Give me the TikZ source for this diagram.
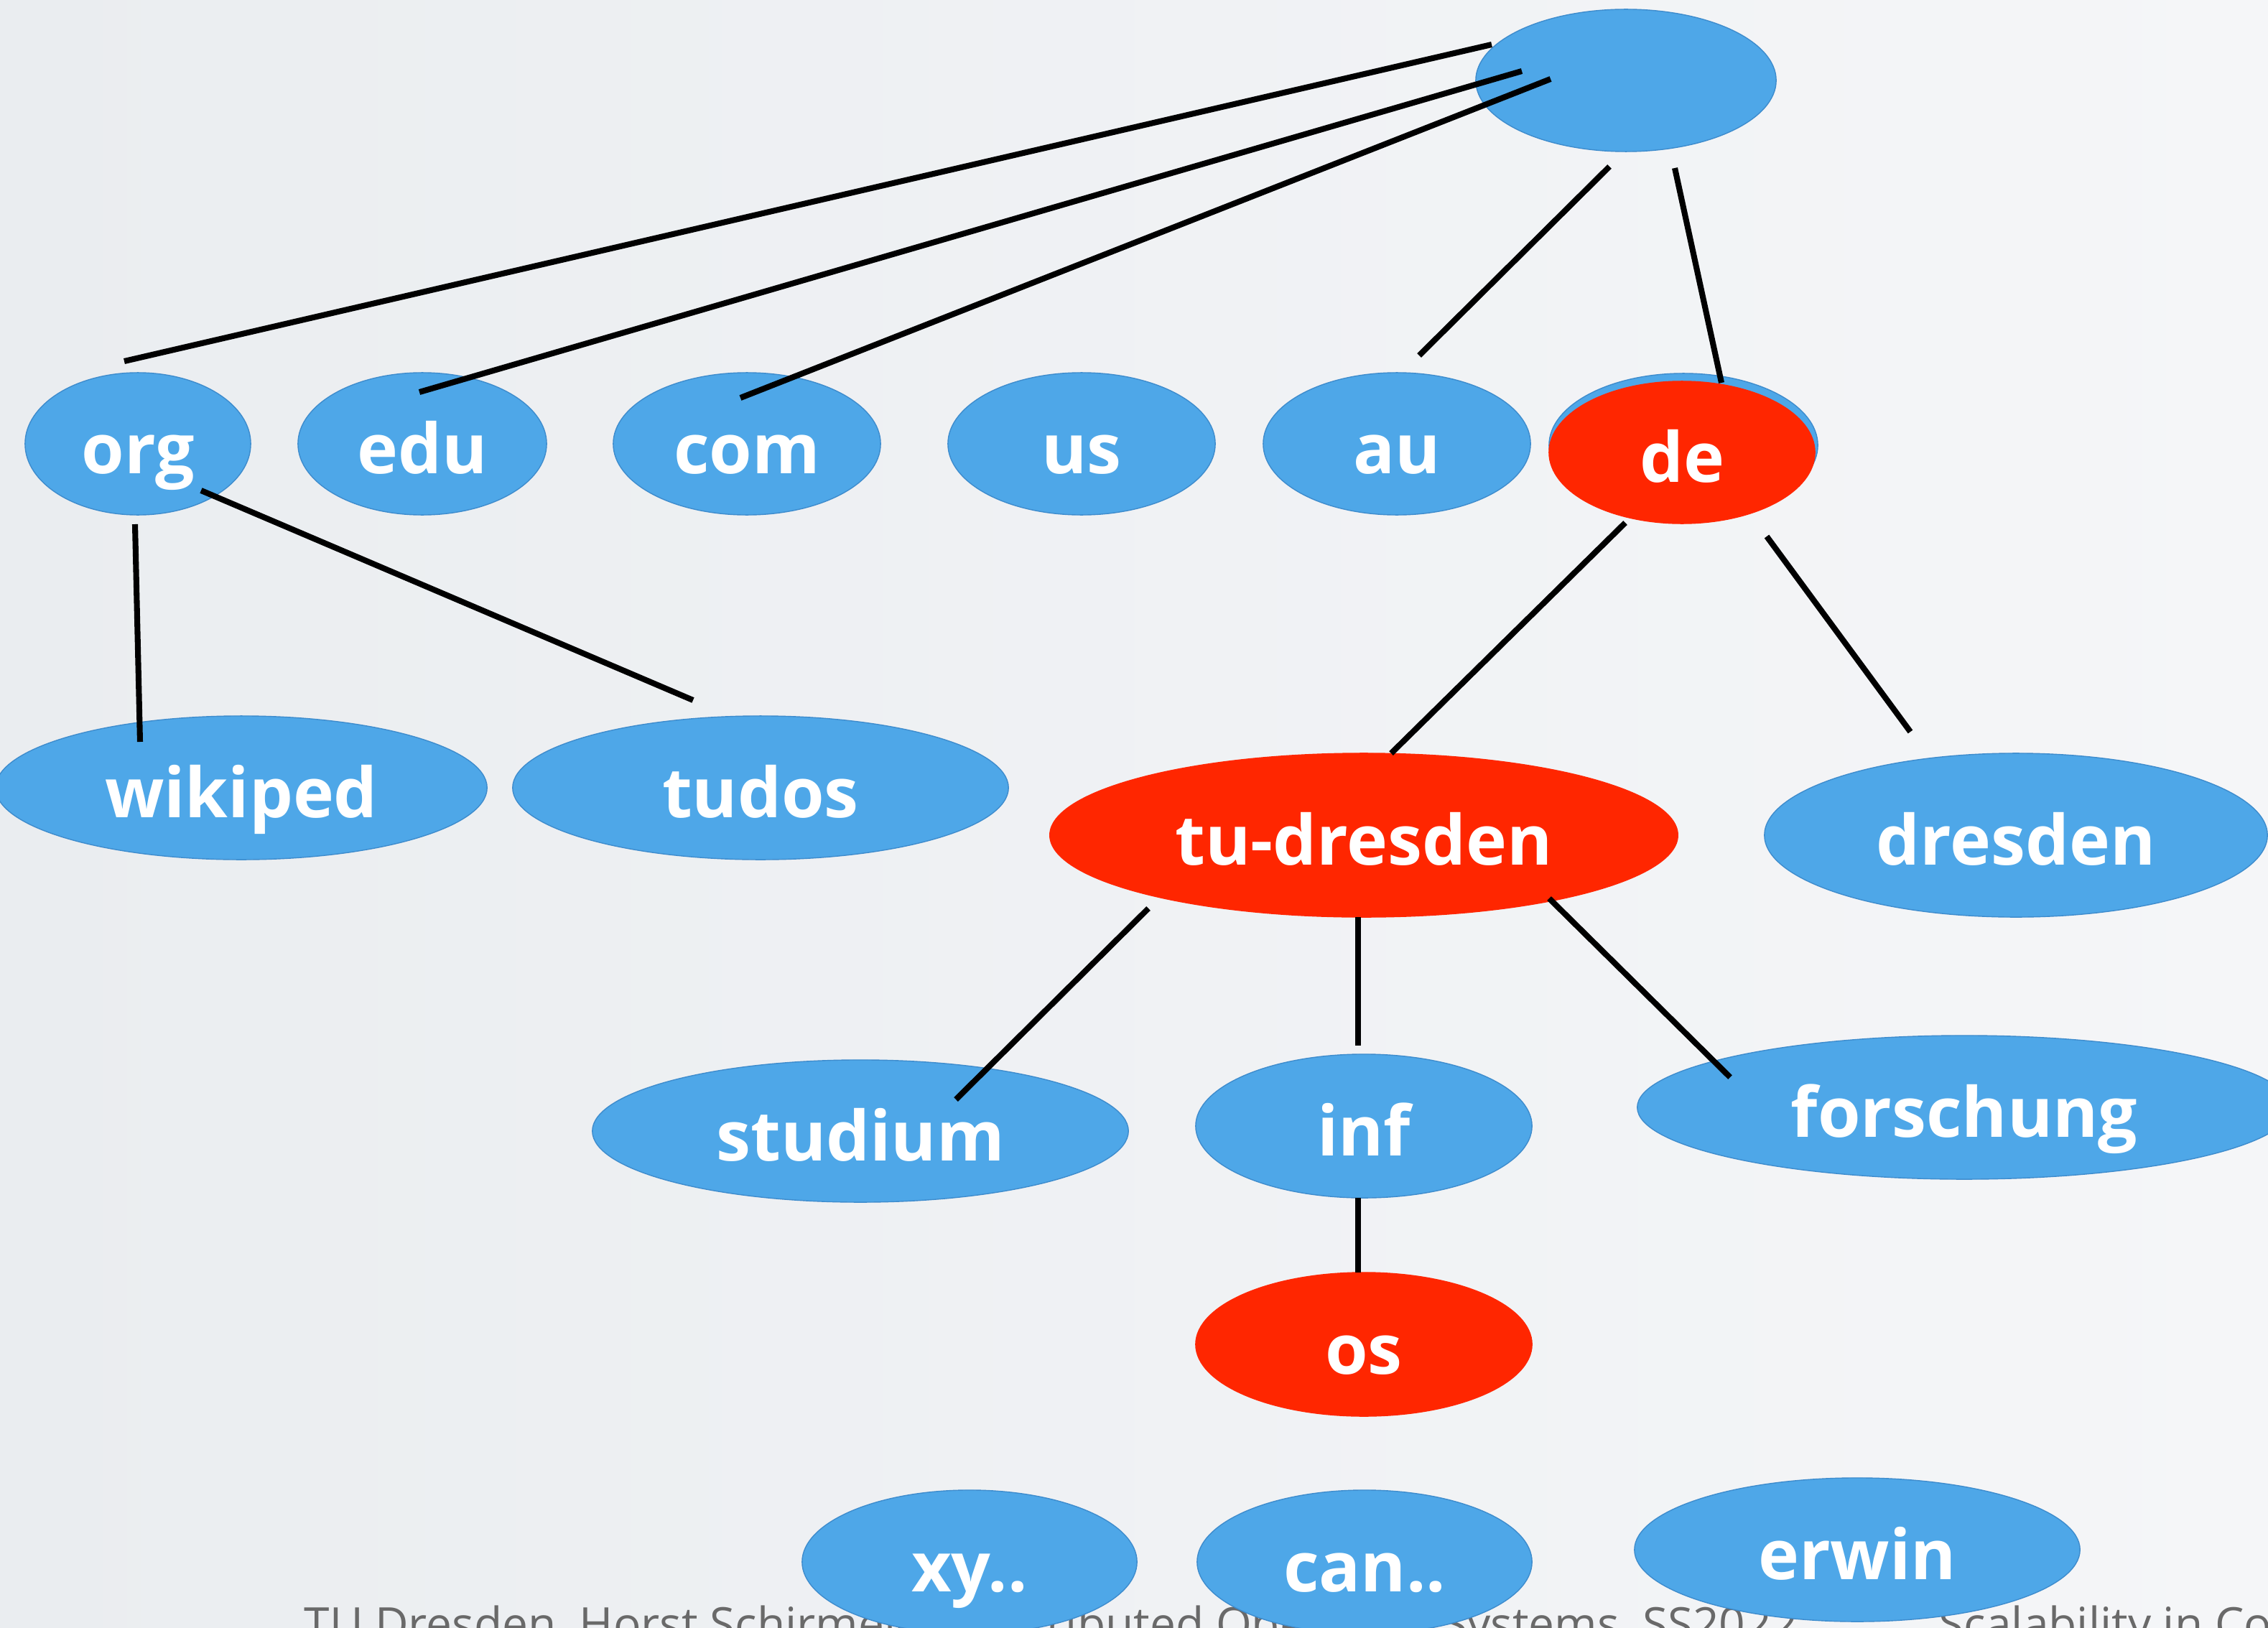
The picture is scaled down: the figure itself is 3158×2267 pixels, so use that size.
\documentclass[tikz,border=0pt]{standalone}
\usepackage{fontspec}
\setmainfont{Open Sans}
\usetikzlibrary{shapes.geometric}
\definecolor{bgL}{RGB}{234,237,240}
\definecolor{bgR}{RGB}{245,246,248}
\definecolor{bub}{RGB}{78,167,232}
\definecolor{bubedge}{RGB}{62,140,205}
\definecolor{hot}{RGB}{255,38,0}
\definecolor{foot}{RGB}{105,105,105}
\tikzset{
  bubble/.style={ellipse, fill=bub, draw=bubedge, line width=0.4pt, inner sep=0pt,
    text=white, font=\fontsize{27.4}{31}\selectfont\bfseries,
    text height=26pt, text depth=2.4pt},
  hotbubble/.style={bubble, fill=hot, draw=hot},
  link/.style={line width=2.3pt, black},
  foottext/.style={anchor=base west, inner sep=0pt, text=foot, font=\fontsize{18.2}{22}\selectfont},
}
\begin{document}
\begin{tikzpicture}[x=0.01cm, y=-0.01cm]
\useasboundingbox (0,0) rectangle (3158,2267);
\shade[left color=bgL, right color=bgR] (0,0) rectangle (3158,2267);
% footer (partly hidden)
\node[foottext] (foot1) at (423,2284) {TU Dresden, Horst Schirmeier, Distributed Operating Systems, SS2022};
\node[foottext] (foot2) at (2699,2284) {Scalability in Computer Systems};
% nodes
\node[bubble, minimum width=4.18cm, minimum height=1.98cm] (root) at (2264,112) {};
\node[bubble, minimum width=3.14cm, minimum height=1.98cm] (org) at (192,618) {org};
\node[bubble, minimum width=3.46cm, minimum height=1.98cm] (edu) at (588,618) {edu};
\node[bubble, minimum width=3.72cm, minimum height=1.98cm] (com) at (1040,618) {com};
\node[bubble, minimum width=3.72cm, minimum height=1.98cm] (us) at (1506,618) {us};
\node[bubble, minimum width=3.72cm, minimum height=1.98cm] (au) at (1945,618) {au};
\node[bubble, minimum width=3.74cm, minimum height=2.0cm] (deback) at (2344,620) {};
\node[hotbubble, minimum width=3.70cm, minimum height=1.98cm] (de) at (2342,630) {de};
\node[bubble, minimum width=6.84cm, minimum height=2.0cm] (wikiped) at (336,1097) {wikiped};
\node[bubble, minimum width=6.90cm, minimum height=2.0cm] (tudos) at (1059,1097) {tudos};
\node[hotbubble, minimum width=8.74cm, minimum height=2.28cm] (tud) at (1899,1163) {tu-dresden};
\node[bubble, minimum width=7.00cm, minimum height=2.28cm] (dresden) at (2807,1163) {dresden};
\node[bubble, minimum width=7.46cm, minimum height=1.98cm] (studium) at (1198,1575) {studium};
\node[bubble, minimum width=4.68cm, minimum height=2.0cm] (inf) at (1899,1568) {inf};
\node[bubble, minimum width=9.10cm, minimum height=2.0cm] (forschung) at (2735,1542) {forschung};
\node[hotbubble, minimum width=4.68cm, minimum height=2.0cm] (os) at (1899,1872) {os};
\node[bubble, minimum width=4.66cm, minimum height=2.0cm] (xy) at (1350,2175) {xy..};
\node[bubble, minimum width=4.66cm, minimum height=2.0cm] (can) at (1900,2175) {can..};
\node[bubble, minimum width=6.20cm, minimum height=2.0cm] (erwin) at (2586,2158) {erwin};
% connector end points
\coordinate (rA) at (2077,62);   \coordinate (orgT) at (173,503);
\coordinate (rB) at (2119,99);   \coordinate (eduT) at (584,546);
\coordinate (rC) at (2159,110);  \coordinate (comT) at (1031,554);
\coordinate (rD) at (2241,232);  \coordinate (auT) at (1976,495);
\coordinate (rE) at (2332,234);  \coordinate (deT) at (2397,533);
\coordinate (orgB) at (188,730); \coordinate (wikT) at (195,1033);
\coordinate (orgR) at (280,683); \coordinate (tudosT) at (965,975);
\coordinate (deBL) at (2263,728); \coordinate (tudT) at (1937,1049);
\coordinate (deBR) at (2460,747); \coordinate (dresT) at (2660,1019);
\coordinate (tudBL) at (1599,1265); \coordinate (studT) at (1331,1531);
\coordinate (tudB) at (1891,1277);  \coordinate (infT) at (1891,1456);
\coordinate (tudBR) at (2157,1251); \coordinate (forT) at (2409,1500);
\coordinate (infB) at (1891,1668);  \coordinate (osT) at (1891,1772);
% connectors
\draw[link] (orgT) -- (rA);
\draw[link] (eduT) -- (rB);
\draw[link] (comT) -- (rC);
\draw[link] (auT) -- (rD);
\draw[link] (deT) -- (rE);
\draw[link] (orgB) -- (wikT);
\draw[link] (orgR) -- (tudosT);
\draw[link] (deBL) -- (tudT);
\draw[link] (deBR) -- (dresT);
\draw[link] (tudBL) -- (studT);
\draw[link] (tudB) -- (infT);
\draw[link] (tudBR) -- (forT);
\draw[link] (infB) -- (osT);
\end{tikzpicture}
\end{document}
